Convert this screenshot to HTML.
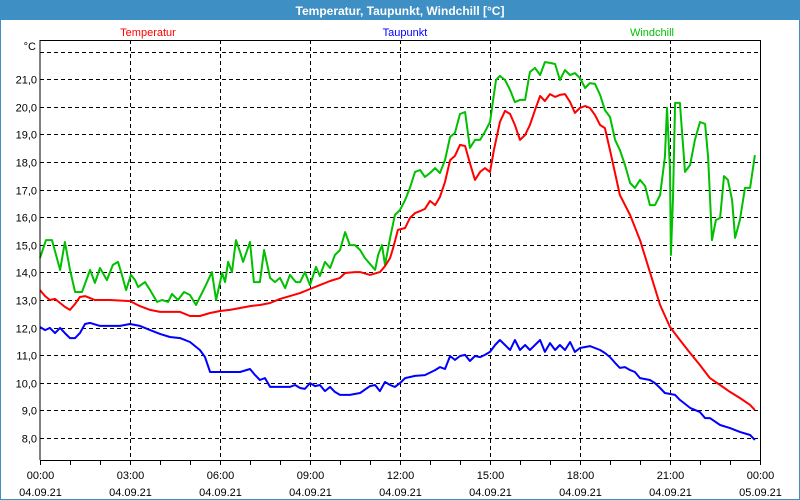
<!DOCTYPE html>
<html><head><meta charset="utf-8"><style>
html,body{margin:0;padding:0;background:#fff}
#wrap{position:relative;width:800px;height:500px;overflow:hidden;font-family:"Liberation Sans",sans-serif}
</style></head><body>
<div id="wrap">
<svg id="chart" width="800" height="500" style="position:absolute;left:0;top:0">
  <rect x="0.5" y="0.5" width="799" height="499" fill="#fff" stroke="#3d8fc4"/>
  <rect x="0" y="0" width="800" height="20" fill="#3d8fc4"/>
  <text x="400" y="15" text-anchor="middle" fill="#fff" font-weight="bold" font-size="12">Temperatur, Taupunkt, Windchill [°C]</text>
  <text x="148" y="36" text-anchor="middle" fill="#ff0000" font-size="11">Temperatur</text>
  <text x="405" y="36" text-anchor="middle" fill="#0000ff" font-size="11">Taupunkt</text>
  <text x="652" y="36" text-anchor="middle" fill="#00c000" font-size="11">Windchill</text>
  <text x="36" y="50" text-anchor="end" fill="#000" font-size="11">°C</text>
  <g id="grid"></g>
  <g id="ticks"></g>
  <g id="series"></g>
  <line x1="40" y1="40" x2="40" y2="460" stroke="#000"/>
  <line x1="40" y1="460.5" x2="760" y2="460.5" stroke="#000"/>
  <line x1="40" y1="40.5" x2="760" y2="40.5" stroke="#000"/>
  <line x1="760.5" y1="40" x2="760.5" y2="460" stroke="#000"/>
</svg>
</div>
<script>
const yTicks=[8,9,10,11,12,13,14,15,16,17,18,19,20,21,22];
const xTickHours=[0,3,6,9,12,15,18,21,24];
const xTickTimes=["00:00","03:00","06:00","09:00","12:00","15:00","18:00","21:00","00:00"];
const xTickDates=["04.09.21","04.09.21","04.09.21","04.09.21","04.09.21","04.09.21","04.09.21","04.09.21","05.09.21"];

const windHours=[0,0.2,0.4,0.67,0.83,1,1.17,1.4,1.67,1.83,2,2.23,2.43,2.6,2.73,2.87,3.03,3.17,3.27,3.5,3.67,3.9,4.07,4.27,4.4,4.6,4.8,5,5.2,5.53,5.73,5.87,6.07,6.17,6.27,6.4,6.53,6.67,6.77,7,7.13,7.33,7.47,7.67,7.83,8,8.17,8.33,8.53,8.67,8.83,9,9.2,9.33,9.5,9.67,9.83,10,10.17,10.33,10.5,10.67,10.83,11.17,11.27,11.4,11.5,11.67,11.83,12,12.17,12.33,12.5,12.67,12.83,13,13.17,13.33,13.5,13.67,13.83,14,14.17,14.33,14.5,14.67,14.83,15,15.2,15.33,15.5,15.67,15.83,16,16.17,16.33,16.5,16.67,16.83,17,17.17,17.33,17.5,17.67,17.83,18,18.17,18.33,18.5,18.67,18.83,19,19.17,19.33,19.5,19.67,19.83,20,20.17,20.33,20.5,20.67,20.83,20.9,21,21.03,21.1,21.17,21.33,21.5,21.67,21.83,22,22.17,22.27,22.4,22.53,22.67,22.8,22.93,23.07,23.17,23.33,23.5,23.67,23.83];
const windValues=[14.52,15.17,15.17,14.09,15.1,14.09,13.29,13.29,14.09,13.62,14.16,13.72,14.27,14.38,13.91,13.36,13.91,13.72,13.47,13.65,13.36,12.93,13.0,12.93,13.22,13.0,13.29,13.18,12.82,13.54,14.01,13.0,13.98,13.65,14.38,14.01,15.17,14.74,14.38,15.1,13.65,13.65,14.81,13.8,13.65,13.8,13.43,13.91,13.65,13.65,14.01,13.54,14.2,13.87,14.38,14.16,14.63,14.81,15.46,14.99,14.99,14.81,14.52,14.09,14.63,14.99,14.27,15.25,16.08,16.26,16.62,17.06,17.64,17.71,17.46,17.6,17.78,17.6,18.07,18.91,19.05,19.74,19.81,18.51,18.8,18.8,19.09,19.45,20.97,21.12,20.97,20.61,20.17,20.25,20.25,21.26,21.41,21.15,21.62,21.59,21.55,20.97,21.33,21.15,21.22,21.04,20.68,20.86,20.83,20.43,19.88,19.63,18.8,18.43,17.89,17.24,17.06,17.35,17.13,16.44,16.44,16.8,18.18,19.96,17.71,14.63,16.7,20.14,20.14,17.64,17.89,18.8,19.45,19.38,18.18,15.17,15.9,15.97,17.49,17.35,16.62,15.25,15.9,17.06,17.06,18.25];

const tempHours=[0,0.17,0.33,0.5,0.67,0.83,1,1.17,1.33,1.5,1.67,1.83,2.33,3,3.33,3.67,4,4.67,5,5.33,5.67,6,6.33,6.67,7,7.33,7.67,8,8.33,8.67,9,9.33,9.67,10,10.17,10.5,10.67,11,11.33,11.5,11.67,11.77,11.93,12.17,12.33,12.5,12.67,12.83,13,13.17,13.33,13.5,13.67,13.83,14,14.17,14.33,14.5,14.67,14.83,15,15.13,15.33,15.5,15.67,15.83,16,16.17,16.33,16.5,16.67,16.83,17,17.17,17.33,17.5,17.67,17.83,18,18.17,18.33,18.5,18.67,18.83,19,19.33,19.67,20,20.33,20.67,21,21.33,21.67,22,22.33,22.67,23,23.33,23.67,23.83];
const tempValues=[13.36,13.14,13.0,13.04,12.89,12.75,12.64,12.86,13.11,13.14,13.07,13.0,13.0,12.96,12.78,12.64,12.57,12.57,12.42,12.42,12.53,12.6,12.64,12.71,12.78,12.82,12.89,13.04,13.14,13.25,13.4,13.54,13.69,13.8,13.98,14.01,14.01,13.91,14.01,14.23,14.52,14.88,15.54,15.61,15.97,16.15,16.22,16.3,16.59,16.44,16.73,17.28,18.07,18.22,18.62,18.58,17.96,17.35,17.64,17.78,17.64,18.43,19.45,19.85,19.74,19.34,18.8,18.98,19.34,19.88,20.39,20.21,20.46,20.36,20.43,20.46,20.17,19.78,19.96,20.03,19.96,19.7,19.34,19.23,18.43,16.8,16.08,15.17,14.01,12.82,12.02,11.55,11.08,10.64,10.17,9.92,9.67,9.45,9.2,9.01];

const dewHours=[0,0.17,0.33,0.5,0.67,0.83,1,1.17,1.33,1.5,1.67,2,2.67,3,3.33,3.67,4,4.33,4.67,5,5.33,5.5,5.67,6.67,7,7.17,7.33,7.5,7.67,8.33,8.5,8.67,8.83,9,9.17,9.33,9.5,9.67,9.83,10,10.33,10.67,11,11.17,11.33,11.5,11.67,11.83,12,12.17,12.5,12.83,13.17,13.33,13.5,13.67,13.83,14,14.17,14.33,14.5,14.67,14.83,15,15.17,15.33,15.5,15.67,15.83,16,16.17,16.33,16.5,16.67,16.83,17,17.17,17.33,17.5,17.67,17.83,18,18.33,18.67,18.83,19,19.17,19.33,19.5,19.67,19.83,20,20.33,20.5,20.67,20.83,21.17,21.33,21.67,22,22.17,22.33,22.67,23,23.33,23.67,23.83];
const dewValues=[12.02,11.91,11.99,11.8,11.99,11.8,11.62,11.62,11.8,12.13,12.17,12.06,12.06,12.13,12.06,11.91,11.77,11.66,11.62,11.48,11.19,10.93,10.39,10.39,10.5,10.28,10.1,10.17,9.85,9.85,9.92,9.81,9.78,9.99,9.88,9.92,9.7,9.85,9.67,9.56,9.56,9.63,9.88,9.92,9.7,10.03,9.92,9.85,9.99,10.17,10.25,10.28,10.46,10.57,10.5,10.97,10.83,10.97,11.01,10.79,10.97,10.93,11.01,11.12,11.37,11.55,11.37,11.19,11.55,11.19,11.37,11.19,11.37,11.55,11.12,11.44,11.19,11.37,11.19,11.48,11.12,11.26,11.33,11.19,11.08,10.93,10.72,10.54,10.57,10.46,10.39,10.17,10.1,9.99,9.81,9.63,9.56,9.38,9.09,8.94,8.72,8.72,8.47,8.36,8.22,8.11,7.93];

const NS="http://www.w3.org/2000/svg";
function xScale(h){return 40+h*30;}
function yScale(v){return 438-(v-8)*27.6;}
function mk(tag,attrs,parent){const e=document.createElementNS(NS,tag);for(const k in attrs)e.setAttribute(k,attrs[k]);parent.appendChild(e);return e;}
const grid=document.getElementById('grid'),ticks=document.getElementById('ticks'),series=document.getElementById('series');

yTicks.forEach(v=>{
  const y=Math.round(yScale(v))+0.5;
  const l=mk('line',{x1:40,y1:y,x2:760,y2:y,stroke:'#000','stroke-dasharray':'4,3'},grid);
  
  
  if(v<22){
    const t=mk('text',{x:37,y:y+4,'text-anchor':'end','font-size':'11',fill:'#000'},ticks);
    t.textContent=v.toFixed(1).replace('.',',');
    
    
  }
});
xTickHours.forEach((h,i)=>{
  const x=Math.round(xScale(h))+0.5;
  if(i>0&&i<xTickHours.length-1){
    const l=mk('line',{x1:x,y1:40,x2:x,y2:460,stroke:'#000','stroke-dasharray':'4,3'},grid);
    
    
  }
  const t1=mk('text',{x:x,y:479,'text-anchor':'middle','font-size':'11',fill:'#000'},ticks);
  t1.textContent=xTickTimes[i];
  
  
  const t2=mk('text',{x:x,y:496,'text-anchor':'middle','font-size':'11',fill:'#000'},ticks);
  t2.textContent=xTickDates[i];
  
  
});
for(let h=0;h<=24;h++){
  const x=Math.round(xScale(h))+0.5;
  const l=mk('line',{x1:x,y1:460,x2:x,y2:465,stroke:'#000'},ticks);
  
  
}
function drawLine(hours,vals,color,name){
  const pts=hours.map((h,i)=>xScale(h).toFixed(1)+','+yScale(vals[i]).toFixed(1)).join(' ');
  const p=mk('polyline',{points:pts,fill:'none',stroke:color,'stroke-width':'2','stroke-linejoin':'round'},series);
  
  
}
drawLine(windHours,windValues,'#00c000','windchill-line');
drawLine(tempHours,tempValues,'#ff0000','temperatur-line');
drawLine(dewHours,dewValues,'#0000ff','taupunkt-line');
</script>
</body></html>
